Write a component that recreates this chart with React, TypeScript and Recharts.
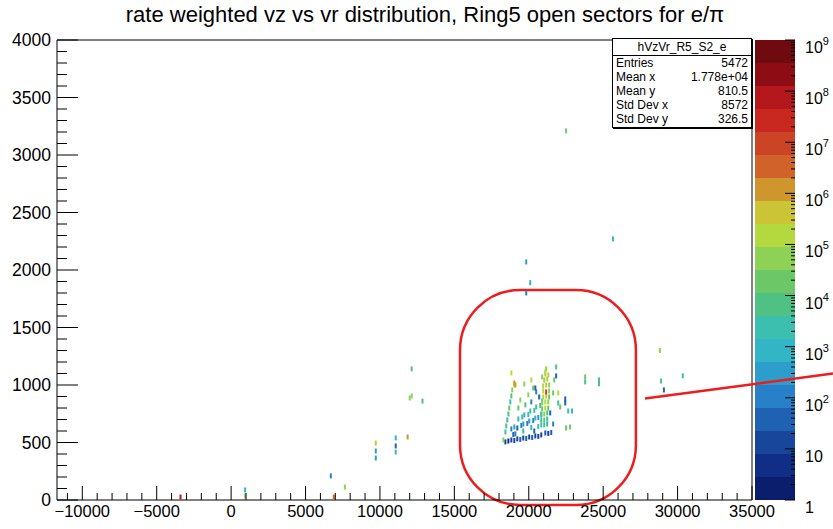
import React from "react";
import {
  ScatterChart,
  Scatter,
  XAxis,
  YAxis,
  ReferenceLine,
  ReferenceArea,
  BarChart,
  Bar,
} from "recharts";

const FONT = '"Liberation Sans", Arial, Helvetica, sans-serif';

// filled bins: [vz, vr, rate]
const strayBins = [
  [22510, 3210, 1.6e4], [25660, 2270, 1e3], [19830, 2070, 200], [20100, 1890, 630],
  [19830, 1800, 160], [28810, 1300, 3.2e4], [28880, 1035, 5e3], [30350, 1080, 2e3],
  [29080, 957, 32], [23790, 1070, 2e4], [23790, 1027, 1e4], [24720, 1045, 1e4],
  [24720, 1010, 6.3e3], [940, 87, 630], [940, 35, 4e4], [6700, 210, 160],
  [7640, 113, 3.2e4], [6900, 26, 2e6], [9720, 495, 3.2e5], [9720, 426, 400],
  [9720, 365, 400], [11060, 540, 1.3e3], [11060, 470, 40], [11060, 417, 2e3],
  [11860, 548, 1e6], [12130, 1140, 6.3e3], [12130, 905, 6.3e4], [12000, 887, 4e4],
  [12860, 860, 4e3], [-3400, 26, 1e8],
];

const bottomRowBins = [
  [18290, 522, 3.2e4], [18430, 505, 16], [18630, 513, 6], [18830, 522, 10], [19030, 518, 20],
  [19230, 531, 8], [19430, 527, 32], [19630, 539, 13], [19830, 535, 25], [20030, 548, 10],
  [20230, 544, 40], [20440, 557, 16], [20640, 553, 8], [20840, 566, 20], [21110, 583, 32],
  [21310, 579, 13], [21510, 587, 50], [20370, 600, 32], [18960, 570, 40],
];

const secondRowBins = [
  [18830, 618, 100], [19030, 635, 250], [19230, 626, 63], [19500, 648, 160], [19630, 661, 400],
  [19900, 666, 100], [20030, 687, 320], [20300, 692, 160], [20440, 713, 630], [20640, 718, 250],
  [20840, 740, 1e3], [19100, 575, 160], [19630, 600, 630], [20170, 630, 1e3], [20640, 640, 2e3],
];

const diagonalBins = [
  [19300, 705, 1e3], [19560, 722, 2e3], [19700, 740, 800], [19970, 744, 3.2e3], [20100, 774, 1.6e3],
  [20370, 779, 4e3], [20500, 809, 2e3], [20770, 822, 6.3e3], [20900, 861, 3.2e3],
];

const coreBins = [
  [20840, 653, 1.6e3], [21040, 653, 6.3e3], [21240, 661, 630],
  [20840, 696, 3.2e3], [21040, 696, 1.6e4], [21240, 705, 2.5e3],
  [20840, 748, 1e4], [21040, 748, 3.2e4], [21240, 757, 8e3],
  [20900, 792, 2.5e4], [21110, 800, 1e5], [21310, 800, 1.3e4],
  [20900, 844, 6.3e4], [21110, 853, 2e5], [21310, 853, 3.2e4],
  [20970, 896, 1e5], [21170, 905, 4e5], [21370, 896, 1.6e4],
  [20970, 948, 2.5e5], [21170, 940, 1e7], [21370, 948, 6.3e4],
  [20970, 992, 1.6e5], [21170, 1000, 6.3e5], [21370, 1000, 4e4],
  [21040, 1044, 4e4], [21240, 1053, 3.2e5],
  [21110, 1096, 4e5], [21310, 1088, 1.6e5],
  [21170, 1140, 6.3e4],
  [20700, 896, 63], [20500, 940, 100], [21440, 757, 40],
];

const leftEdgeBins = [
  [18430, 592, 2e3], [18490, 644, 4e3], [18560, 696, 1.6e3], [18630, 748, 6.3e3], [18690, 800, 2e4],
  [18760, 853, 3.2e3], [18830, 905, 1e4], [18890, 957, 4e4], [19030, 1000, 1e5],
];

const nearbyBins = [
  [18830, 1105, 2e5], [19030, 1018, 1.6e6], [19100, 1000, 1e6], [20170, 1044, 2e5], [19700, 1009, 4e4],
  [20300, 974, 1.6e4], [19970, 914, 6.3e4], [19430, 870, 3.2e4], [19770, 827, 4e3], [19300, 800, 1.3e4],
  [20170, 853, 100], [20440, 974, 63], [21840, 1157, 4e3], [21840, 1079, 63], [21110, 1114, 2.5e5],
  [20900, 1070, 3.2e4], [21640, 931, 2.5e4], [21980, 931, 1.6e5], [22450, 879, 63], [22450, 844, 40],
  [21980, 844, 2e3], [22110, 809, 1.6e4], [22650, 774, 2e3], [22910, 774, 1e3], [22510, 626, 2.5e4],
  [22780, 635, 2.5e4], [21640, 661, 160], [21710, 1044, 2.5e4],
];

const majorVz = [-10000, -5000, 0, 5000, 10000, 15000, 20000, 25000, 30000, 35000];
const minorVz = [
  -11000, -9000, -8000, -7000, -6000, -4000, -3000, -2000, -1000, 1000, 2000, 3000, 4000,
  6000, 7000, 8000, 9000, 11000, 12000, 13000, 14000, 16000, 17000, 18000, 19000, 21000,
  22000, 23000, 24000, 26000, 27000, 28000, 29000, 31000, 32000, 33000, 34000,
];
const majorVr = [0, 500, 1000, 1500, 2000, 2500, 3000, 3500, 4000];
const minorVr = [
  100, 200, 300, 400, 600, 700, 800, 900, 1100, 1200, 1300, 1400, 1600, 1700, 1800, 1900,
  2100, 2200, 2300, 2400, 2600, 2700, 2800, 2900, 3100, 3200, 3300, 3400, 3600, 3700, 3800, 3900,
];
const decades = [0, 1, 2, 3, 4, 5, 6, 7, 8, 9];

// kBird-like palette, low to high
const palette = [
  "#0b1e6e", "#102e85", "#18469b", "#1f62b3", "#2780c8", "#2d9dcb", "#33b5c6", "#3cbfaf",
  "#4fc283", "#6cc866", "#8dd256", "#b4d93e", "#ccc437", "#cf962e", "#d0622a", "#cc4426",
  "#c8281f", "#b4181c", "#8e0c14", "#6e0a10",
];

const statsTitle = "hVzVr_R5_S2_e";
const statsRows = [
  ["Entries", "5472"],
  ["Mean x", "1.778e+04"],
  ["Mean y", "810.5"],
  ["Std Dev x", "8572"],
  ["Std Dev y", "326.5"],
];

// hand-drawn highlight (data coordinates)
const highlightBox = { x1: 15380, x2: 27200, y1: -43, y2: 1826 };
const pointerLine = [{ x: 27810, y: 883 }, { x: 40440, y: 1100 }];

const cells = [
  ...strayBins, ...bottomRowBins, ...secondRowBins, ...diagonalBins,
  ...coreBins, ...leftEdgeBins, ...nearbyBins,
].map(([vz, vr, rate]) => ({ vz, vr, rate }));

const minorDecades = decades.slice(0, 9).flatMap((n) =>
  [2, 3, 4, 5, 6, 7, 8, 9].map((k) => n + Math.log10(k))
);

const bandRow: Record<string, number | string> = { name: "z" };
palette.forEach((_, i) => (bandRow[`b${i}`] = 9 / palette.length));

const rateColor = (r: number) => {
  const i = Math.floor(Math.log10(r) / (9 / palette.length));
  return palette[Math.min(palette.length - 1, Math.max(0, i))];
};

const CellMark = (p: any) => (
  <rect x={p.cx - 1} y={p.cy - 2.5} width={2} height={5} fill={rateColor(p.payload.rate)} />
);

// ROOT-style ticks: drawn inwards, labels only on major ticks
const VzTick = ({ x, y, payload }: any) => {
  const v = payload.value;
  const major = majorVz.includes(v);
  return (
    <g>
      <line x1={x} x2={x} y1={y} y2={y - (major ? 14 : 7)} stroke="#000" />
      {major && (
        <text x={x} y={y + 5} dy="0.71em" textAnchor="middle" fontSize={16.5} fontFamily={FONT} fill="#000">
          {v < 0 ? `\u2212${-v}` : `${v}`}
        </text>
      )}
    </g>
  );
};

const VrTick = ({ x, y, payload }: any) => {
  const v = payload.value;
  const major = majorVr.includes(v);
  return (
    <g>
      <line x1={x} x2={x + (major ? 21 : 10)} y1={y} y2={y} stroke="#000" />
      {major && (
        <text x={x - 6} y={y} dy="0.355em" textAnchor="end" fontSize={17.5} fontFamily={FONT} fill="#000">
          {v}
        </text>
      )}
    </g>
  );
};

const PowerTick = ({ x, y, payload }: any) => {
  const n = payload.value;
  const major = Number.isInteger(n);
  return (
    <g>
      <line x1={x - (major ? 10 : 4)} x2={x} y1={y} y2={y} stroke="#000" />
      {major && (
        <text x={x + 10} y={y + 13} fontSize={16} fontFamily={FONT} fill="#000">
          {n === 0 ? "1" : "10"}
          {n >= 2 && (
            <tspan dy={-8} fontSize={11}>
              {n}
            </tspan>
          )}
        </text>
      )}
    </g>
  );
};

export default function App() {
  const dom: [number, number] = [-11700, 35000];
  return (
    <div style={{ position: "absolute", left: 0, top: 0, width: 833, height: 529, background: "#fff", fontFamily: FONT }}>
      <div style={{ position: "absolute", left: 0, top: 2, width: 850, textAlign: "center", fontSize: 22, lineHeight: "26px", color: "#000" }}>
        rate weighted vz vs vr distribution, Ring5 open sectors for e/π
      </div>

      <div style={{ position: "absolute", left: 755, top: 0 }}>
        <BarChart width={78} height={529} data={[bandRow]} margin={{ top: 40, right: 0, bottom: 29, left: 0 }} barCategoryGap={0}>
          <XAxis dataKey="name" hide />
          <YAxis type="number" domain={[0, 9]} ticks={[...decades, ...minorDecades]} interval={0} orientation="right" width={38}
            axisLine={false} tickLine={false} tickSize={0} tickMargin={0} tick={<PowerTick />} />
          {palette.map((c, i) => (
            <Bar key={c} dataKey={`b${i}`} stackId="z" fill={c} isAnimationActive={false} />
          ))}
        </BarChart>
      </div>

      <div style={{ position: "absolute", left: 0, top: 0 }}>
        <ScatterChart width={833} height={529} margin={{ top: 40, right: 81, bottom: 0, left: 0 }}>
          <XAxis dataKey="vz" type="number" domain={dom} ticks={[...majorVz, ...minorVz]} interval={0} height={29}
            tickLine={false} tickSize={0} tickMargin={0} stroke="#000" tick={<VzTick />} allowDataOverflow />
          <YAxis dataKey="vr" type="number" domain={[0, 4000]} ticks={[...majorVr, ...minorVr]} interval={0} width={57}
            tickLine={false} tickSize={0} tickMargin={0} stroke="#000" tick={<VrTick />} allowDataOverflow />
          <ReferenceLine y={4000} stroke="#000" />
          <ReferenceLine x={35000} stroke="#000" />
          <Scatter data={cells} shape={<CellMark />} isAnimationActive={false} />
          <ReferenceArea {...highlightBox} ifOverflow="visible"
            shape={(p: any) => (
              <rect x={p.x} y={p.y} width={p.width} height={p.height} rx={60} ry={60}
                fill="none" stroke="#ee1c1c" strokeWidth={2.5} />
            )} />
          <ReferenceLine segment={pointerLine} ifOverflow="visible" stroke="#ee1c1c" strokeWidth={2.5} />
        </ScatterChart>
      </div>

      <div style={{ position: "absolute", left: 612, top: 38, width: 138, height: 88, border: "1px solid #000",
        boxShadow: "1px 1px 0 #000", background: "#fff", fontSize: 12, color: "#000" }}>
        <div style={{ height: 16, lineHeight: "16px", textAlign: "center", borderBottom: "1px solid #000" }}>{statsTitle}</div>
        {statsRows.map(([k, v]) => (
          <div key={k} style={{ display: "flex", justifyContent: "space-between", height: 14, lineHeight: "14px", padding: "0 3px" }}>
            <span>{k}</span>
            <span>{v}</span>
          </div>
        ))}
      </div>
    </div>
  );
}
